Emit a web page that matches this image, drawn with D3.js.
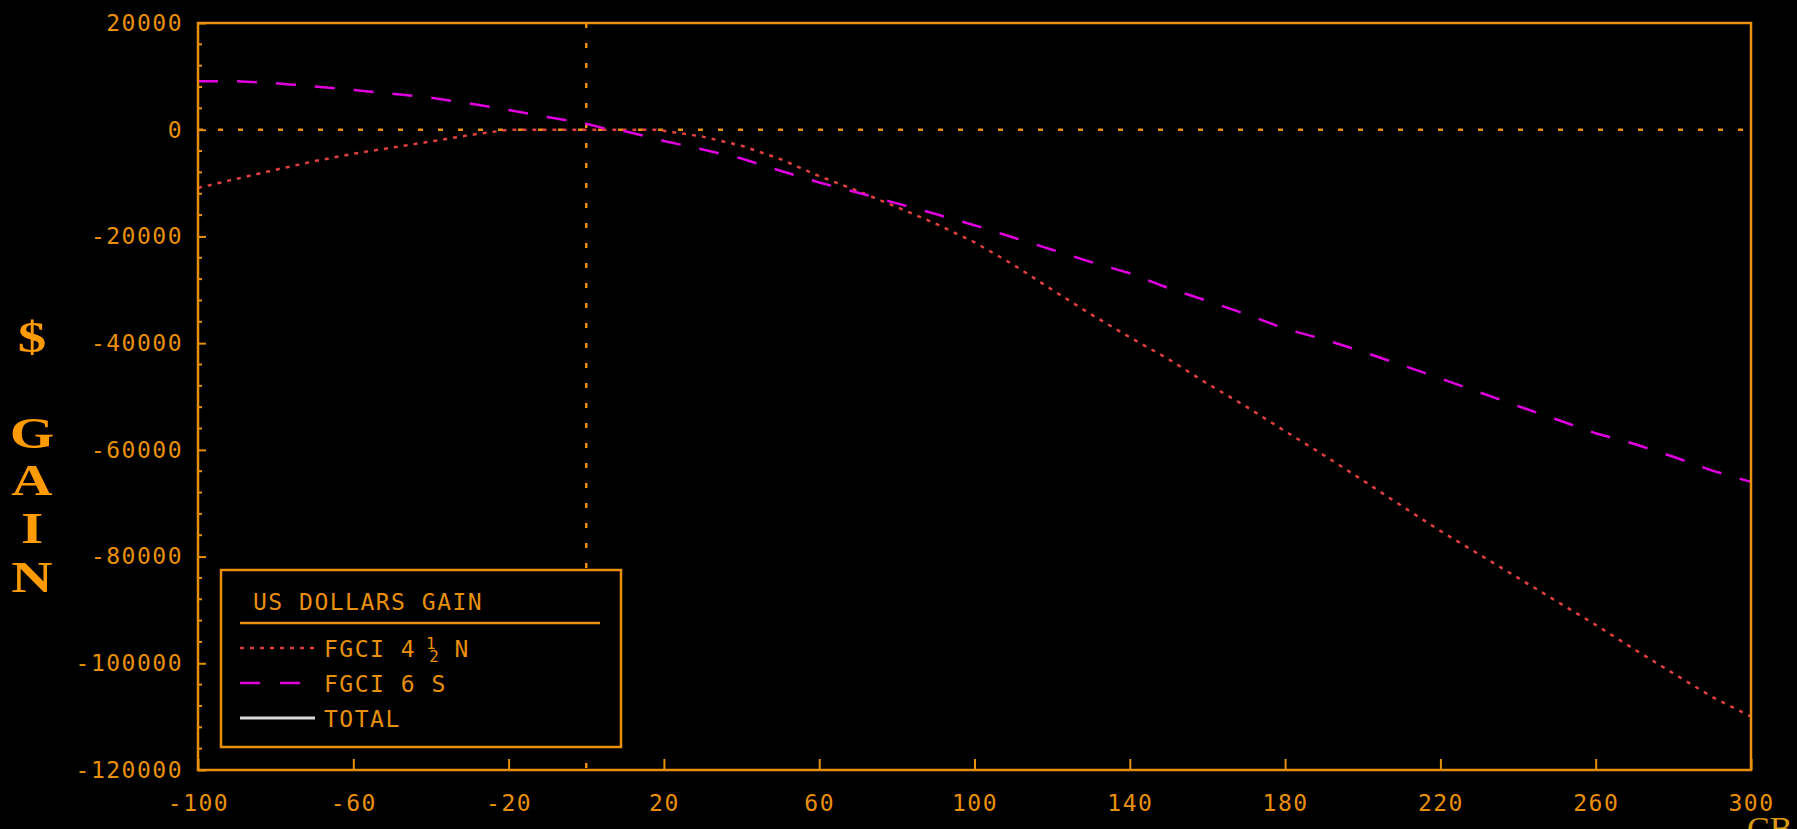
<!DOCTYPE html>
<html>
<head>
<meta charset="utf-8">
<script src="https://cdn.jsdelivr.net/npm/d3@7"></script>
<style>
    html, body { margin: 0; padding: 0; background: #000; }
    svg { display: block; }
    .tickText { font-family: 'DejaVu Sans Mono', monospace; font-size: 23px; fill: #e8900c; letter-spacing: 1.5px; }
    .gainLetter { font-family: 'Liberation Serif', serif; font-weight: bold; font-size: 44px; fill: #ff9a00; }
</style>
</head>
<body>
<svg id="gainChart" width="1797" height="829"></svg>
<script>
const orange = '#e8900c';
const margin = {top: 23, right: 46, bottom: 59, left: 198};

// x values (rate change) shared by both series
const xValues = [-100, -90, -80, -70, -60, -50, -40, -30, -20, -10, 0, 5, 10, 18, 20, 30, 40, 50, 60, 70, 80,
    90, 100, 110, 120, 130, 140, 150, 160, 170, 180, 190, 200, 210, 220, 230, 240, 250, 260, 270, 280, 290, 300];

const fgci45N = [-10900, -9200, -7500, -5900, -4500, -3350, -2200, -1000, 0, 0, 0, 0, 0, 0, -200, -1300, -3000,
    -5500, -8700, -11500, -14500, -17600, -21100, -25300, -30000, -34600, -38900, -43000, -47600, -51900,
    -56500, -61000, -65700, -70500, -75200, -79600, -84000, -88400, -92800, -97400, -101900, -106300, -110000];

const fgci6S = [9100, 9100, 8700, 8100, 7450, 6750, 6000, 4900, 3700, 2400, 1100, 200, -300, -1700, -2100, -3700,
    -5400, -7700, -9900, -11800, -13800, -15800, -17900, -20200, -22500, -24800, -26900, -29700, -32100, -34600,
    -37300, -39300, -41600, -44100, -46600, -49200, -51800, -54300, -56900, -58900, -61300, -63900, -66000];

const xTicks = [-100, -60, -20, 20, 60, 100, 140, 180, 220, 260, 300];
const yMajorTicks = [20000, 0, -20000, -40000, -60000, -80000, -100000, -120000];
const yMinorTicks = d3.range(-120000, 20001, 4000);

const legendTitle = 'US DOLLARS GAIN';
const legendNames = ['FGCI 4', 'FGCI 6 S', 'TOTAL'];
const legendColors = ['#e04040', '#e000e0', '#d8d8d8'];
const legendDashes = ['4,6', '20,20', null];

const yLabel = ['$', 'G', 'A', 'I', 'N'];

function render () {
    const svg = d3.select('#gainChart');
    const width = +svg.attr('width');
    const height = +svg.attr('height');
    const chartWidth = width - margin.left - margin.right;
    const chartHeight = height - margin.top - margin.bottom;

    svg.append('rect').attr('width', width).attr('height', height).attr('fill', '#000');

    const g = svg.append('g')
        .attr('transform', `translate(${margin.left},${margin.top})`);

    const x = d3.scaleLinear().domain([-100, 300]).range([0, chartWidth]);
    const y = d3.scaleLinear().domain([-120000, 20000]).range([chartHeight, 0]);

    // REFERENCE LINES

    g.append('line')
        .attr('x1', 0).attr('x2', chartWidth)
        .attr('y1', y(0)).attr('y2', y(0))
        .attr('stroke', orange).attr('stroke-width', 2.5)
        .attr('stroke-dasharray', '5,15');

    g.append('line')
        .attr('x1', x(0)).attr('x2', x(0))
        .attr('y1', 0).attr('y2', chartHeight)
        .attr('stroke', orange).attr('stroke-width', 2.5)
        .attr('stroke-dasharray', '5,15');

    // SERIES

    const line = d3.line()
        .x(d => x(d[0]))
        .y(d => y(d[1]));

    g.append('path')
        .datum(xValues.map((v, i) => [v, fgci45N[i]]))
        .attr('d', line)
        .attr('fill', 'none')
        .attr('stroke', legendColors[0])
        .attr('stroke-width', 2.5)
        .attr('stroke-dasharray', legendDashes[0]);

    g.append('path')
        .datum(xValues.map((v, i) => [v, fgci6S[i]]))
        .attr('d', line)
        .attr('fill', 'none')
        .attr('stroke', legendColors[1])
        .attr('stroke-width', 2.5)
        .attr('stroke-dasharray', '20,19');

    // AXES

    const yAxis = g.append('g')
        .call(d3.axisLeft(y).tickValues(yMajorTicks).tickSize(-8).tickPadding(15).tickFormat(d => String(d)));
    const xAxis = g.append('g')
        .attr('transform', `translate(0,${chartHeight})`)
        .call(d3.axisBottom(x).tickValues(xTicks).tickSize(-11).tickPadding(25).tickFormat(d => String(d)));

    [xAxis, yAxis].forEach(ax => {
        ax.select('.domain').remove();
        ax.selectAll('line').attr('stroke', orange).attr('stroke-width', 2);
        ax.selectAll('text').attr('class', 'tickText').attr('fill', null);
    });

    g.selectAll('.minorTick')
        .data(yMinorTicks.filter(d => !yMajorTicks.includes(d)))
        .enter()
        .append('line')
        .attr('class', 'minorTick')
        .attr('x1', 0).attr('x2', 4)
        .attr('y1', d => y(d)).attr('y2', d => y(d))
        .attr('stroke', orange).attr('stroke-width', 2);

    g.append('rect')
        .attr('width', chartWidth).attr('height', chartHeight)
        .attr('fill', 'none')
        .attr('stroke', orange).attr('stroke-width', 2.5);

    // LEGEND

    const legend = svg.append('g').attr('transform', 'translate(221,570)');
    legend.append('rect')
        .attr('width', 400).attr('height', 177)
        .attr('fill', '#000')
        .attr('stroke', orange).attr('stroke-width', 2.5);
    legend.append('text')
        .attr('class', 'tickText')
        .attr('x', 32).attr('y', 40)
        .text(legendTitle);
    legend.append('line')
        .attr('x1', 19).attr('x2', 379)
        .attr('y1', 53).attr('y2', 53)
        .attr('stroke', orange).attr('stroke-width', 2.5);

    const items = legend.selectAll('.legendItem')
        .data(legendNames)
        .enter()
        .append('g')
        .attr('class', 'legendItem')
        .attr('transform', (d, i) => `translate(0,${78 + i * 35})`);
    items.append('line')
        .attr('x1', 19).attr('x2', 94)
        .attr('y1', 0).attr('y2', 0)
        .attr('stroke', (d, i) => legendColors[i])
        .attr('stroke-width', (d, i) => i === 2 ? 3 : 2.5)
        .attr('stroke-dasharray', (d, i) => legendDashes[i]);
    const labels = items.append('text')
        .attr('class', 'tickText')
        .attr('x', 103).attr('y', 9)
        .text(d => d);

    // the 4 1/2 fraction: raised 1 over lowered 2, then N
    const first = d3.select(labels.nodes()[0]);
    first.append('tspan').style('font-size', '16px')
        .attr('dx', 10).attr('dy', -8).text('1');
    first.append('tspan').style('font-size', '16px')
        .attr('dx', -8).attr('dy', 13).text('2');
    first.append('tspan')
        .attr('dx', 14).attr('dy', -5).text('N');

    // Y LABEL

    const baselines = [352, 448, 495, 543, 592];
    svg.selectAll('.gainLetter')
        .data(yLabel)
        .enter()
        .append('text')
        .attr('class', 'gainLetter')
        .attr('text-anchor', 'middle')
        .attr('transform', (d, i) => `translate(32,${baselines[i]}) scale(1.3,1)`)
        .text(d => d);

    svg.append('text')
        .attr('x', 1747).attr('y', 840)
        .attr('font-family', 'Liberation Serif, serif')
        .attr('font-size', 34)
        .attr('fill', '#d89a10')
        .text('CB');
}

render();
</script>
</body>
</html>
